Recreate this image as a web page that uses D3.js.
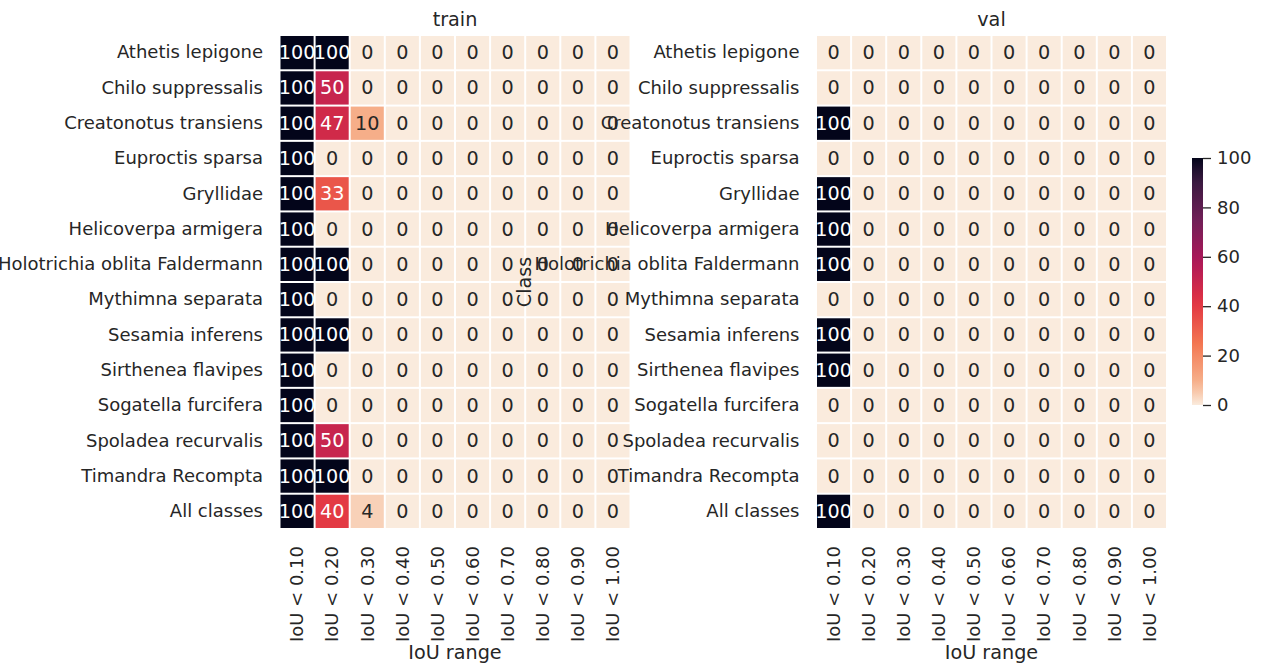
<!DOCTYPE html>
<html><head><meta charset="utf-8">
<script src="https://cdn.jsdelivr.net/npm/d3@7"></script>
<style>body{margin:0;background:#fff}svg{display:block}text{font-family:"DejaVu Sans",sans-serif;fill:#262626}</style>
</head><body><svg id="c" width="1261" height="668"></svg>
<script>
const classes = ["Athetis lepigone","Chilo suppressalis","Creatonotus transiens","Euproctis sparsa","Gryllidae","Helicoverpa armigera","Holotrichia oblita Faldermann","Mythimna separata","Sesamia inferens","Sirthenea flavipes","Sogatella furcifera","Spoladea recurvalis","Timandra Recompta","All classes"];
const iouRanges = ["IoU < 0.10","IoU < 0.20","IoU < 0.30","IoU < 0.40","IoU < 0.50","IoU < 0.60","IoU < 0.70","IoU < 0.80","IoU < 0.90","IoU < 1.00"];
// rows = classes, columns = IoU ranges
const trainValues = [
 [100,100,0,0,0,0,0,0,0,0],
 [100,50,0,0,0,0,0,0,0,0],
 [100,47,10,0,0,0,0,0,0,0],
 [100,0,0,0,0,0,0,0,0,0],
 [100,33,0,0,0,0,0,0,0,0],
 [100,0,0,0,0,0,0,0,0,0],
 [100,100,0,0,0,0,0,0,0,0],
 [100,0,0,0,0,0,0,0,0,0],
 [100,100,0,0,0,0,0,0,0,0],
 [100,0,0,0,0,0,0,0,0,0],
 [100,0,0,0,0,0,0,0,0,0],
 [100,50,0,0,0,0,0,0,0,0],
 [100,100,0,0,0,0,0,0,0,0],
 [100,40,4,0,0,0,0,0,0,0]
];
const valValues = [
 [0,0,0,0,0,0,0,0,0,0],
 [0,0,0,0,0,0,0,0,0,0],
 [100,0,0,0,0,0,0,0,0,0],
 [0,0,0,0,0,0,0,0,0,0],
 [100,0,0,0,0,0,0,0,0,0],
 [100,0,0,0,0,0,0,0,0,0],
 [100,0,0,0,0,0,0,0,0,0],
 [0,0,0,0,0,0,0,0,0,0],
 [100,0,0,0,0,0,0,0,0,0],
 [100,0,0,0,0,0,0,0,0,0],
 [0,0,0,0,0,0,0,0,0,0],
 [0,0,0,0,0,0,0,0,0,0],
 [0,0,0,0,0,0,0,0,0,0],
 [100,0,0,0,0,0,0,0,0,0]
];
const colorTicks = [0,20,40,60,80,100];

// rocket colormap (dark -> light), used reversed
const rocketStops = ["#03051a","#35193e","#701f57","#ad1759","#e13342","#f37651","#f6b48f","#faebdd"];
const rocketPos = [0,1/12,3/12,5/12,7/12,9/12,11/12,1];
const rocket = d3.scaleLinear().domain(rocketPos).range(rocketStops).interpolate(d3.interpolateRgb);
const color = v => rocket(1 - v/100);

const svg = d3.select("#c");
const FS = 18, FL = 19.2;
const plotTop = 35, plotBottom = 529;

function heatmap(x0, x1, values, title, showYLabel) {
  const g = svg.append("g");
  const x = d3.scaleBand().domain(iouRanges).range([x0, x1]);
  const y = d3.scaleBand().domain(classes).range([plotTop, plotBottom]);
  const cells = [];
  values.forEach((row, i) => row.forEach((v, j) => cells.push({c: classes[i], r: iouRanges[j], v})));
  g.selectAll("rect.cell").data(cells).join("rect")
    .attr("x", d => x(d.r) + 1).attr("y", d => y(d.c) + 1)
    .attr("width", x.bandwidth() - 2).attr("height", y.bandwidth() - 2)
    .attr("fill", d => color(d.v));
  g.selectAll("text.ann").data(cells).join("text")
    .attr("x", d => x(d.r) + x.bandwidth()/2).attr("y", d => y(d.c) + y.bandwidth()/2)
    .attr("text-anchor","middle").attr("dominant-baseline","central")
    .style("font-size", FL + "px")
    .style("fill", d => d.v >= 30 ? "#ffffff" : "#262626")
    .text(d => d.v);
  const ya = g.append("g").attr("transform", `translate(${x0},0)`)
    .call(d3.axisLeft(y).tickSize(0).tickPadding(16.5));
  ya.select(".domain").remove();
  ya.selectAll("text").style("font-size", FS + "px").style("fill","#262626").attr("font-family", null);
  const xa = g.append("g").attr("transform", `translate(0,${plotBottom})`)
    .call(d3.axisBottom(x).tickSize(0).tickPadding(0));
  xa.select(".domain").remove();
  xa.selectAll("text").style("font-size", FS + "px").style("fill","#262626").attr("font-family", null)
    .attr("transform", "rotate(-90)").attr("text-anchor","end")
    .attr("x", -17).attr("y", 0).attr("dy", "0.35em");
  g.append("text").attr("x", (x0+x1)/2).attr("y", 25.5).attr("text-anchor","middle")
    .style("font-size", FL + "px").text(title);
  g.append("text").attr("x", (x0+x1)/2).attr("y", 659).attr("text-anchor","middle")
    .style("font-size", FL + "px").text("IoU range");
  if (showYLabel) {
    g.append("text").attr("transform", `translate(${x0 - 292},${(plotTop+plotBottom)/2}) rotate(-90)`)
      .attr("text-anchor","middle").attr("dy","0.35em").style("font-size", FL + "px").text("Class");
  }
}
heatmap(279.5, 630.5, trainValues, "train", false);
heatmap(816, 1167, valValues, "val", true);

// colorbar
const cbX = 1192, cbW = 11, cbTop = 158, cbBot = 405;
const cy = d3.scaleLinear().domain([0,100]).range([cbBot, cbTop]);
const defs = svg.append("defs");
const grad = defs.append("linearGradient").attr("id","cbg").attr("x1",0).attr("y1",1).attr("x2",0).attr("y2",0);
d3.range(0, 101, 5).forEach(v => grad.append("stop").attr("offset", v/100).attr("stop-color", color(v)));
svg.append("rect").attr("x", cbX).attr("y", cbTop).attr("width", cbW).attr("height", cbBot - cbTop).attr("fill","url(#cbg)");
const ca = svg.append("g").attr("transform", `translate(${cbX + cbW},0)`)
  .call(d3.axisRight(cy).tickValues(colorTicks).tickSize(8).tickPadding(6));
ca.select(".domain").remove();
ca.selectAll("line").attr("stroke","#262626").attr("stroke-width",1.3);
ca.selectAll("text").style("font-size", FS + "px").style("fill","#262626").attr("font-family", null);
</script></body></html>
